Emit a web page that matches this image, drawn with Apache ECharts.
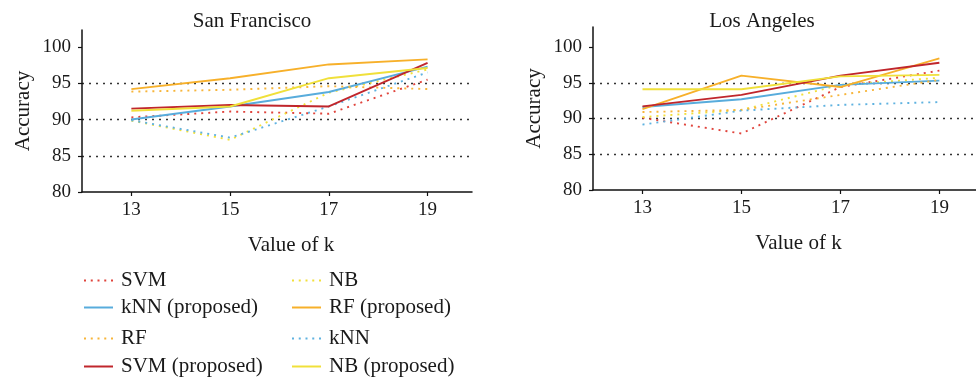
<!DOCTYPE html>
<html>
<head>
<meta charset="utf-8">
<script src="https://cdn.jsdelivr.net/npm/echarts@6/dist/echarts.min.js"></script>
<style>
html,body{margin:0;padding:0;background:#fff;}
#chart{width:976px;height:379px;}
</style>
</head>
<body>
<div id="chart"></div>
<script>
// ---- Data ----
const kValues = [13, 15, 17, 19];
const yTicks = [80, 85, 90, 95, 100];
const panelTitles = ['San Francisco', 'Los Angeles'];
const seriesNames = ['SVM', 'NB', 'kNN (proposed)', 'RF (proposed)', 'RF', 'kNN', 'SVM (proposed)', 'NB (proposed)'];

// San Francisco
const sf_SVM = [90.3, 91.1, 90.8, 95.5];
const sf_NB = [89.85, 87.2, 93.7, 96.9];
const sf_kNNp = [90.0, 91.8, 93.8, 97.3];
const sf_RFp = [94.2, 95.7, 97.6, 98.3];
const sf_RF = [93.85, 94.1, 94.6, 94.2];
const sf_kNN = [89.9, 87.5, 91.8, 96.5];
const sf_SVMp = [91.5, 92.0, 91.8, 97.8];
const sf_NBp = [91.2, 91.8, 95.7, 97.1];

// Los Angeles
const la_SVM = [90.1, 87.9, 94.4, 96.7];
const la_NB = [90.2, 91.2, 94.7, 95.7];
const la_kNNp = [91.6, 92.7, 94.7, 95.3];
const la_RFp = [91.3, 96.0, 94.4, 98.4];
const la_RF = [90.9, 91.2, 93.3, 95.4];
const la_kNN = [89.15, 91.1, 91.9, 92.3];
const la_SVMp = [91.7, 93.3, 96.0, 97.8];
const la_NBp = [94.1, 94.1, 95.9, 96.1];

// ---- Styles ----
const FONT = '"Liberation Serif", "Times New Roman", serif';
const TXT = '#1a1a1a';
const DOT = [2, 5];
const styleMap = {
  'SVM': {color: '#e0443c', type: DOT},
  'NB': {color: '#f2e03a', type: DOT},
  'kNN (proposed)': {color: '#58acdc', type: 'solid'},
  'RF (proposed)': {color: '#f7b02a', type: 'solid'},
  'RF': {color: '#f7b53a', type: DOT},
  'kNN': {color: '#5fb2e0', type: DOT},
  'SVM (proposed)': {color: '#c0262c', type: 'solid'},
  'NB (proposed)': {color: '#f0e03a', type: 'solid'}
};
const sfData = [sf_SVM, sf_NB, sf_kNNp, sf_RFp, sf_RF, sf_kNN, sf_SVMp, sf_NBp];
const laData = [la_SVM, la_NB, la_kNNp, la_RFp, la_RF, la_kNN, la_SVMp, la_NBp];

// legend icons: a thin bar (solid) or a row of small squares (dotted)
const ICON_SOLID = 'path://M0,0h29v2h-29z';
const ICON_DOTTED = 'path://M0,0h2v2h-2z M6.75,0h2v2h-2z M13.5,0h2v2h-2z M20.25,0h2v2h-2z M27,0h2v2h-2z';

const chart = echarts.init(document.getElementById('chart'), null, {renderer: 'canvas'});

function xAxis(gi, max) {
  return {
    type: 'value', gridIndex: gi, min: 12, max: max,
    name: 'Value of k', nameLocation: 'middle', nameGap: 43,
    nameTextStyle: {fontFamily: FONT, fontSize: 21, color: TXT, padding: [0, 0, 0, 28]},
    axisLine: {onZero: false, lineStyle: {color: '#111', width: 1.5}},
    axisTick: {show: true, length: 4, lineStyle: {color: '#111', width: 1.2}, customValues: kValues},
    axisLabel: {fontFamily: FONT, fontSize: 19, color: TXT, margin: 9, customValues: kValues},
    splitLine: {show: false}
  };
}
function yAxis(gi, max) {
  return {
    type: 'value', gridIndex: gi, min: 80, max: max, interval: 5,
    name: 'Accuracy', nameLocation: 'middle', nameGap: 48, nameRotate: 90,
    nameTextStyle: {fontFamily: FONT, fontSize: 21, color: TXT},
    axisLine: {show: true, onZero: false, lineStyle: {color: '#111', width: 1.5}},
    axisTick: {show: true, length: 4, lineStyle: {color: '#111', width: 1.2}, customValues: yTicks},
    axisLabel: {fontFamily: FONT, fontSize: 19, color: TXT, margin: 11, customValues: yTicks},
    splitLine: {show: true, showMinLine: false, showMaxLine: false, lineStyle: {color: '#333', type: DOT, width: 1.3}}
  };
}

const series = [];
[sfData, laData].forEach((set, gi) => {
  set.forEach((vals, si) => {
    const name = seriesNames[si];
    const st = styleMap[name];
    series.push({
      name: name, type: 'line', xAxisIndex: gi, yAxisIndex: gi,
      data: kValues.map((k, i) => [k, vals[i]]),
      symbol: 'none', silent: true, animation: false,
      lineStyle: {color: st.color, width: 1.9, type: st.type},
      itemStyle: {color: st.color}
    });
  });
});

// legend layout: two columns, four rows
const legendCols = [
  ['SVM', 'kNN (proposed)', 'RF', 'SVM (proposed)'],
  ['NB', 'RF (proposed)', 'kNN', 'NB (proposed)']
];
const rowCenters = [281, 308, 339, 367];
const colLeft = [84, 292];
const legends = [];
legendCols.forEach((col, ci) => {
  col.forEach((name, ri) => {
    const st = styleMap[name];
    legends.push({
      data: [{name: name, icon: st.type === 'solid' ? ICON_SOLID : ICON_DOTTED,
              itemStyle: {color: st.color, borderWidth: 0}}],
      left: colLeft[ci], top: rowCenters[ri] - 11, padding: 0,
      itemWidth: 29, itemHeight: 2, selectedMode: false,
      textStyle: {fontFamily: FONT, fontSize: 21, color: TXT, padding: [0, 0, 0, 3]}
    });
  });
});

chart.setOption({
  animation: false,
  title: [
    {text: panelTitles[0], left: 247, top: 6, textAlign: 'center',
     textStyle: {fontFamily: FONT, fontSize: 21, fontWeight: 'normal', color: TXT}},
    {text: panelTitles[1], left: 757, top: 6, textAlign: 'center',
     textStyle: {fontFamily: FONT, fontSize: 21, fontWeight: 'normal', color: TXT}}
  ],
  legend: legends,
  grid: [
    {left: 82, right: 504, top: 30, bottom: 187},
    {left: 593, right: 0, top: 27, bottom: 189}
  ],
  xAxis: [xAxis(0, 19.9), xAxis(1, 19.74)],
  yAxis: [yAxis(0, 102.35), yAxis(1, 102.8)],
  series: series
});
</script>
</body>
</html>
